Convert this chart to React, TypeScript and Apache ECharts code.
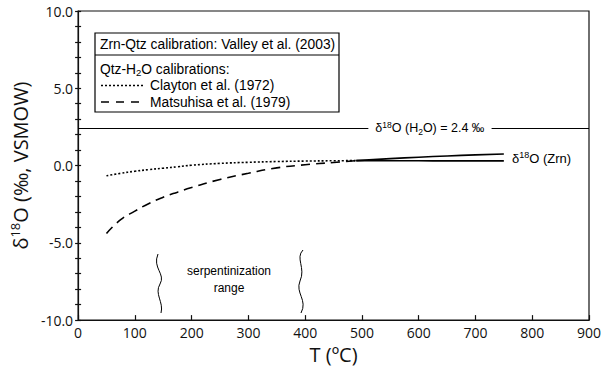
import React, { useEffect, useRef } from "react";
import * as echarts from "echarts";

// ---- data ----
const TEMPS_LOW = [50, 75, 100, 125, 150, 175, 200, 250, 300, 350, 400, 450, 490];
const CLAYTON_LOW = [-0.66, -0.5, -0.37, -0.26, -0.17, -0.08, 0.02, 0.14, 0.21, 0.26, 0.29, 0.31, 0.32];
const MATSUHISA_LOW = [-4.4, -3.5, -2.95, -2.45, -2.05, -1.72, -1.42, -0.9, -0.5, -0.15, 0.05, 0.2, 0.32];
const TEMPS_HIGH = [490, 550, 600, 650, 700, 750];
const CLAYTON_HIGH = [0.32, 0.31, 0.31, 0.3, 0.3, 0.3];
const MATSUHISA_HIGH = [0.32, 0.45, 0.54, 0.62, 0.69, 0.75];
const WATER_D18O = 2.4;
const X_TICKS = [0, 100, 200, 300, 400, 500, 600, 700, 800, 900];
const Y_LABELS = [-10, -5, 0, 5, 10];

const FONT = "Open Sans";
const ARIAL = "Liberation Sans";

const pair = (xs: number[], ys: number[]) => xs.map((x, i) => [x, ys[i]]);

export default function App() {
  const ref = useRef<HTMLDivElement>(null);
  useEffect(() => {
    const chart = echarts.init(ref.current!, null, { renderer: "svg" });
    const yBase = {
      type: "value",
      min: -10,
      max: 10,
      interval: 1,
      position: "left",
    };
    chart.setOption({
      animation: false,
      backgroundColor: "#fff",
      grid: {
        left: 77.5,
        right: 24,
        top: 11,
        bottom: 47,
        show: true,
        borderColor: "#111",
        borderWidth: 1.2,
      },
      xAxis: {
        type: "value",
        min: X_TICKS[0],
        max: X_TICKS[X_TICKS.length - 1],
        interval: 100,
        position: "bottom",
        name: "T (ºC)",
        nameLocation: "middle",
        nameGap: 19,
        nameTextStyle: { fontFamily: FONT, fontSize: 20, color: "#111" },
        axisLine: { onZero: false, lineStyle: { color: "#111", width: 1.2 } },
        axisTick: { inside: true, length: 5, lineStyle: { color: "#111", width: 1.2 } },
        axisLabel: { fontFamily: FONT, fontSize: 14, color: "#111", margin: 5 },
        splitLine: { show: false },
      },
      yAxis: [
        {
          ...yBase,
          name: "{b|δ}{sup|18}{b|O (‰, VSMOW)}",
          nameLocation: "middle",
          nameGap: 43,
          nameTextStyle: {
            fontFamily: FONT,
            fontSize: 20,
            color: "#111",
            rich: {
              b: { fontFamily: FONT, fontSize: 20, color: "#111", lineHeight: 24 },
              sup: { fontFamily: FONT, fontSize: 13, color: "#111", verticalAlign: "top", lineHeight: 24, padding: [0, 0, 8, 0] },
            },
          },
          axisLine: { onZero: false, lineStyle: { color: "#111", width: 1.2 } },
          axisTick: { inside: false, length: 3, lineStyle: { color: "#111", width: 1.2 } },
          axisLabel: {
            fontFamily: FONT,
            fontSize: 14,
            color: "#111",
            margin: 5,
            formatter: (v: number) => (Y_LABELS.includes(v) ? v.toFixed(1) : ""),
          },
          splitLine: { show: false },
        },
        {
          ...yBase,
          axisLine: { show: false, onZero: false },
          axisTick: { show: true, inside: true, length: 3, lineStyle: { color: "#111", width: 1.2 } },
          axisLabel: { show: false },
          splitLine: { show: false },
        },
      ],
      series: [
        {
          name: "Clayton et al. (1972)",
          type: "line",
          data: pair(TEMPS_LOW, CLAYTON_LOW),
          smooth: true,
          showSymbol: false,
          lineStyle: { color: "#000", width: 1.6, type: [2, 2] },
          markLine: {
            silent: true,
            symbol: ["none", "none"],
            lineStyle: { color: "#000", width: 1, type: "solid" },
            label: { show: false },
            data: [
              [{ coord: [0, WATER_D18O] }, { coord: [525, WATER_D18O] }],
              [
                {
                  coord: [728, WATER_D18O],
                  label: {
                    show: true,
                    position: "start",
                    distance: 0,
                    backgroundColor: "#fff",
                    padding: [2, 7, 2, 7],
                    formatter: "{n|δ}{sup|18}{n|O (H}{sub|2}{n|O) = 2.4 ‰}",
                    rich: {
                      n: { fontFamily: ARIAL, fontSize: 12.5, color: "#000", lineHeight: 16 },
                      sup: { fontFamily: ARIAL, fontSize: 8.5, color: "#000", verticalAlign: "top", lineHeight: 16 },
                      sub: { fontFamily: ARIAL, fontSize: 8.5, color: "#000", verticalAlign: "bottom", lineHeight: 16 },
                    },
                  },
                },
                { coord: [900, WATER_D18O] },
              ],
            ],
          },
        },
        {
          name: "Matsuhisa et al. (1979)",
          type: "line",
          data: pair(TEMPS_LOW, MATSUHISA_LOW),
          smooth: true,
          showSymbol: false,
          lineStyle: { color: "#000", width: 1.6, type: [9, 6] },
        },
        {
          name: "Clayton high",
          type: "line",
          data: pair(TEMPS_HIGH, CLAYTON_HIGH),
          smooth: true,
          showSymbol: false,
          lineStyle: { color: "#000", width: 1.6 },
        },
        {
          name: "Matsuhisa high",
          type: "line",
          data: pair(TEMPS_HIGH, MATSUHISA_HIGH),
          smooth: true,
          showSymbol: false,
          lineStyle: { color: "#000", width: 1.6 },
        },
      ],
      graphic: [
        { type: "rect", shape: { x: 95, y: 33, width: 244, height: 79 }, style: { fill: "#fff", stroke: "#000", lineWidth: 1.2 }, z: 10 },
        { type: "line", shape: { x1: 95, y1: 55, x2: 339, y2: 55 }, style: { stroke: "#000", lineWidth: 1 }, z: 11 },
        {
          type: "text", x: 100, y: 44, z: 11,
          style: { text: "Zrn-Qtz calibration: Valley et al. (2003)", fontFamily: ARIAL, fontSize: 13.8, fill: "#000", align: "left", verticalAlign: "middle" },
        },
        {
          type: "text", x: 100, y: 69, z: 11,
          style: {
            text: "{n|Qtz-H}{sub|2}{n|O calibrations:}", fontFamily: ARIAL, fontSize: 13.8, fill: "#000", align: "left", verticalAlign: "middle",
            rich: {
              n: { fontFamily: ARIAL, fontSize: 13.8, fill: "#000", lineHeight: 16 },
              sub: { fontFamily: ARIAL, fontSize: 9.5, fill: "#000", verticalAlign: "bottom", lineHeight: 16 },
            },
          },
        },
        { type: "line", shape: { x1: 101, y1: 85.5, x2: 145, y2: 85.5 }, style: { stroke: "#000", lineWidth: 1.4, lineDash: [2, 2] }, z: 11 },
        {
          type: "text", x: 150, y: 85, z: 11,
          style: { text: "Clayton et al. (1972)", fontFamily: ARIAL, fontSize: 13.8, fill: "#000", align: "left", verticalAlign: "middle" },
        },
        { type: "line", shape: { x1: 101, y1: 102, x2: 145, y2: 102 }, style: { stroke: "#000", lineWidth: 1.4, lineDash: [8, 7] }, z: 11 },
        {
          type: "text", x: 150, y: 102, z: 11,
          style: { text: "Matsuhisa et al. (1979)", fontFamily: ARIAL, fontSize: 13.8, fill: "#000", align: "left", verticalAlign: "middle" },
        },
        {
          type: "text", x: 512, y: 158, z: 11,
          style: {
            text: "{n|δ}{sup|18}{n|O (Zrn)}", fontFamily: ARIAL, fontSize: 13, fill: "#000", align: "left", verticalAlign: "middle",
            rich: {
              n: { fontFamily: ARIAL, fontSize: 13, fill: "#000", lineHeight: 16 },
              sup: { fontFamily: ARIAL, fontSize: 9, fill: "#000", verticalAlign: "top", lineHeight: 16 },
            },
          },
        },
        {
          type: "text", x: 229, y: 279, z: 11,
          style: { text: "serpentinization\nrange", fontFamily: ARIAL, fontSize: 12, lineHeight: 17, fill: "#000", align: "center", verticalAlign: "middle" },
        },
        { type: "bezierCurve", shape: { x1: 158, y1: 254, cpx1: 152, cpy1: 268, cpx2: 166, cpy2: 274, x2: 160, y2: 284 }, style: { stroke: "#000", lineWidth: 1, fill: "none" } },
        { type: "bezierCurve", shape: { x1: 160, y1: 284, cpx1: 154, cpy1: 294, cpx2: 164, cpy2: 302, x2: 161, y2: 313 }, style: { stroke: "#000", lineWidth: 1, fill: "none" } },
        { type: "bezierCurve", shape: { x1: 303, y1: 250, cpx1: 295, cpy1: 258, cpx2: 306, cpy2: 268, x2: 300, y2: 281 }, style: { stroke: "#000", lineWidth: 1, fill: "none" } },
        { type: "bezierCurve", shape: { x1: 300, y1: 281, cpx1: 295, cpy1: 293, cpx2: 308, cpy2: 300, x2: 301, y2: 313 }, style: { stroke: "#000", lineWidth: 1, fill: "none" } },
      ],
    });
    return () => chart.dispose();
  }, []);
  return (
    <div
      ref={ref}
      style={{ position: "fixed", left: 0, top: 0, width: 613, height: 369, background: "#fff" }}
    />
  );
}
